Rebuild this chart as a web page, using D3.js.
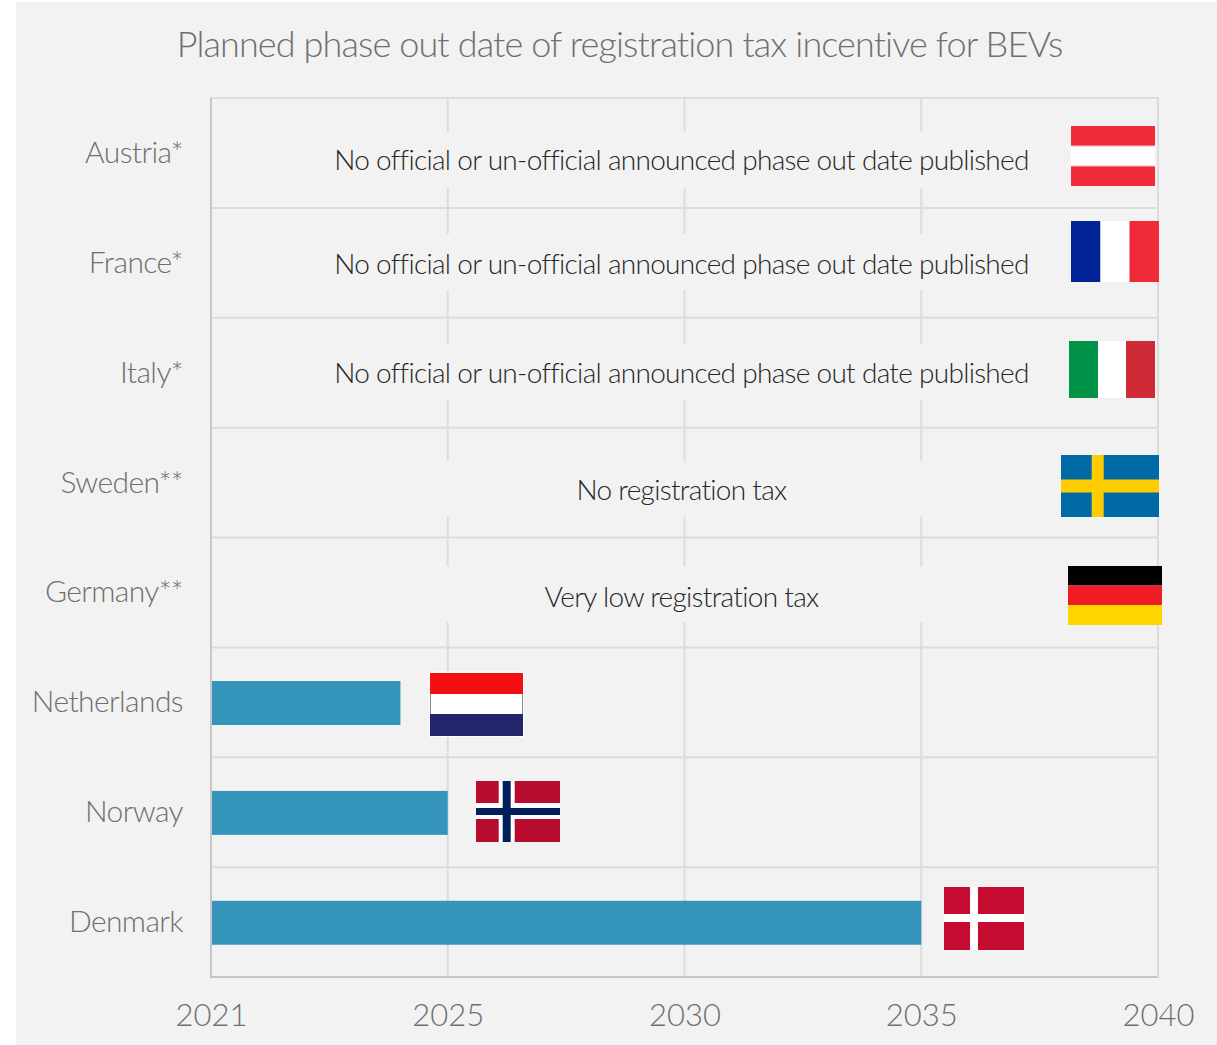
<!DOCTYPE html>
<html><head><meta charset="utf-8">
<script src="https://cdn.jsdelivr.net/npm/d3@7"></script>
<style>
html,body{margin:0;padding:0;background:#fff}
svg{display:block}
text{font-family:Lato,"Open Sans",sans-serif;font-weight:300}
</style></head><body>
<script>
const titleText = "Planned phase out date of registration tax incentive for BEVs";
const countries = ["Austria*","France*","Italy*","Sweden**","Germany**","Netherlands","Norway","Denmark"];
const phaseOutYears = [null,null,null,null,null,2024,2025,2035];
const notes = [
  "No official or un-official announced phase out date published",
  "No official or un-official announced phase out date published",
  "No official or un-official announced phase out date published",
  "No registration tax",
  "Very low registration tax",
  null,null,null];
const tickYears = [2020,2025,2030,2035,2040];
const tickLabels = ["2021","2025","2030","2035","2040"];

const W=1217,H=1045;
const svg=d3.select("body").append("svg").attr("width",W).attr("height",H);
svg.append("rect").attr("x",16).attr("y",2).attr("width",W-16).attr("height",H-2).attr("fill","#f2f2f2");

const x=d3.scaleLinear().domain([2020,2040]).range([211,1158]);
const y=d3.scaleBand().domain(countries).range([98,977]).paddingInner(0.6).paddingOuter(0.3);
const bandEdges=countries.map(c=>y(c)-y.step()*0.3).concat([977]);
const grid="#dcdcdc", axisCol="#c6c6c6";

// vertical gridlines
svg.append("g").selectAll("line").data(tickYears.slice(1,4)).join("line")
  .attr("x1",d=>x(d)).attr("x2",d=>x(d)).attr("y1",98).attr("y2",977)
  .attr("stroke",grid).attr("stroke-width",2);

// note rows: a full-width background interrupts the vertical gridlines
const gapOffsets=[7,-1,-1,6,2], textOffsets=[7,1,0,7,5];
const noteData=countries.map((c,i)=>({c,t:notes[i]})).filter(d=>d.t)
  .map((d,i)=>({...d,cy:y(d.c)+y.bandwidth()/2,gap:gapOffsets[i],txt:textOffsets[i]}));
svg.append("g").selectAll("rect").data(noteData).join("rect")
  .attr("x",x(2020)+2).attr("width",x(2040)-x(2020)-4)
  .attr("y",d=>d.cy+d.gap-28).attr("height",56).attr("fill","#f2f2f2");

// horizontal gridlines and frame
svg.append("g").selectAll("line").data(bandEdges).join("line")
  .attr("x1",210).attr("x2",1159).attr("y1",d=>d).attr("y2",d=>d)
  .attr("stroke",(d,i)=>i===bandEdges.length-1?axisCol:grid).attr("stroke-width",2);
svg.append("line").attr("x1",x(2040)).attr("x2",x(2040)).attr("y1",98).attr("y2",977).attr("stroke",grid).attr("stroke-width",2);
svg.append("line").attr("x1",x(2020)).attr("x2",x(2020)).attr("y1",98).attr("y2",978).attr("stroke",axisCol).attr("stroke-width",2);

// note text
svg.append("g").selectAll("text").data(noteData).join("text")
  .attr("x",x(2030)-3).attr("y",d=>d.cy+d.txt+10).attr("text-anchor","middle")
  .attr("font-size",28).attr("letter-spacing",-0.7).attr("fill","#262626").text(d=>d.t);

// bars
const barData=countries.map((c,i)=>({c,v:phaseOutYears[i]})).filter(d=>d.v!==null);
svg.selectAll("rect.bar").data(barData).join("rect").attr("class","bar")
  .attr("x",x(2020)+1).attr("y",d=>y(d.c)+0.7).attr("height",y.bandwidth())
  .attr("width",d=>x(d.v)-x(2020)-1).attr("fill","#3494ba");

// axes
const xAxis=d3.axisBottom(x).tickValues(tickYears).tickFormat((d,i)=>tickLabels[i]).tickSize(0).tickPadding(0);
const ax=svg.append("g").attr("transform","translate(0,977)").call(xAxis);
ax.select(".domain").remove();
ax.selectAll("text").attr("y",49).attr("dy",0).attr("font-size",31).attr("fill","#6f6f6f").style("font-family","Lato").style("font-weight",300);

const yAxis=d3.axisLeft(y).tickSize(0).tickPadding(0);
const ay=svg.append("g").attr("transform","translate(183,0)").call(yAxis);
ay.select(".domain").remove();
ay.selectAll("text").attr("x",0).attr("dy",0).attr("y",10).attr("font-size",30).attr("letter-spacing",-0.6).attr("fill","#6f6f6f").style("font-family","Lato").style("font-weight",300);

svg.append("text").attr("x",619.5).attr("y",57).attr("text-anchor","middle").attr("font-size",36).attr("letter-spacing",-0.88).attr("fill","#6f6f6f").text(titleText);

// flags
const rect=(p,a,b,c,d,f)=>p.append("rect").attr("x",a).attr("y",b).attr("width",c-a).attr("height",d-b).attr("fill",f);
const f=svg.append("g").attr("class","flags");
// Austria
rect(f,1071,126,1155,186,"#ef2b3a");rect(f,1071,145.5,1155,166.5,"#f9bcc2");rect(f,1071,146.5,1155,165.5,"#fff");
// France
rect(f,1071,221,1100.5,282,"#002395");rect(f,1100.5,221,1129.5,282,"#fff");rect(f,1129.5,221,1159,282,"#ef2b3a");
// Italy
rect(f,1069,341,1098,398,"#009246");rect(f,1098,341,1126,398,"#fff");rect(f,1126,341,1155,398,"#ce2b37");
// Sweden
rect(f,1061,455,1159,517,"#006aa7");rect(f,1091.7,455,1103.7,517,"#fecc00");rect(f,1061,479.5,1159,492.5,"#fecc00");
// Germany
rect(f,1068,566,1162,585.5,"#000");rect(f,1068,585.5,1162,605,"#ef1c24");rect(f,1068,605,1162,625,"#ffd500");
// Netherlands
rect(f,429.5,671.5,524,737,"#fff");rect(f,430,673,523,694,"#f21010");rect(f,430,694,431,714,"#8a8a8a");rect(f,522,694,523,714,"#8a8a8a");rect(f,430,714,523,736,"#21256b");
// Norway
rect(f,476,781,560,842,"#b70c2e");rect(f,498.7,781,514.7,842,"#fff");rect(f,476,803,560,819,"#fff");
rect(f,502.7,781,510.7,842,"#00205b");rect(f,476,808,560,815,"#00205b");
// Denmark
rect(f,944,887,1024,950,"#c60c30");rect(f,970,887,978,950,"#fff");rect(f,944,914,1024,922,"#fff");
</script>
</body></html>
